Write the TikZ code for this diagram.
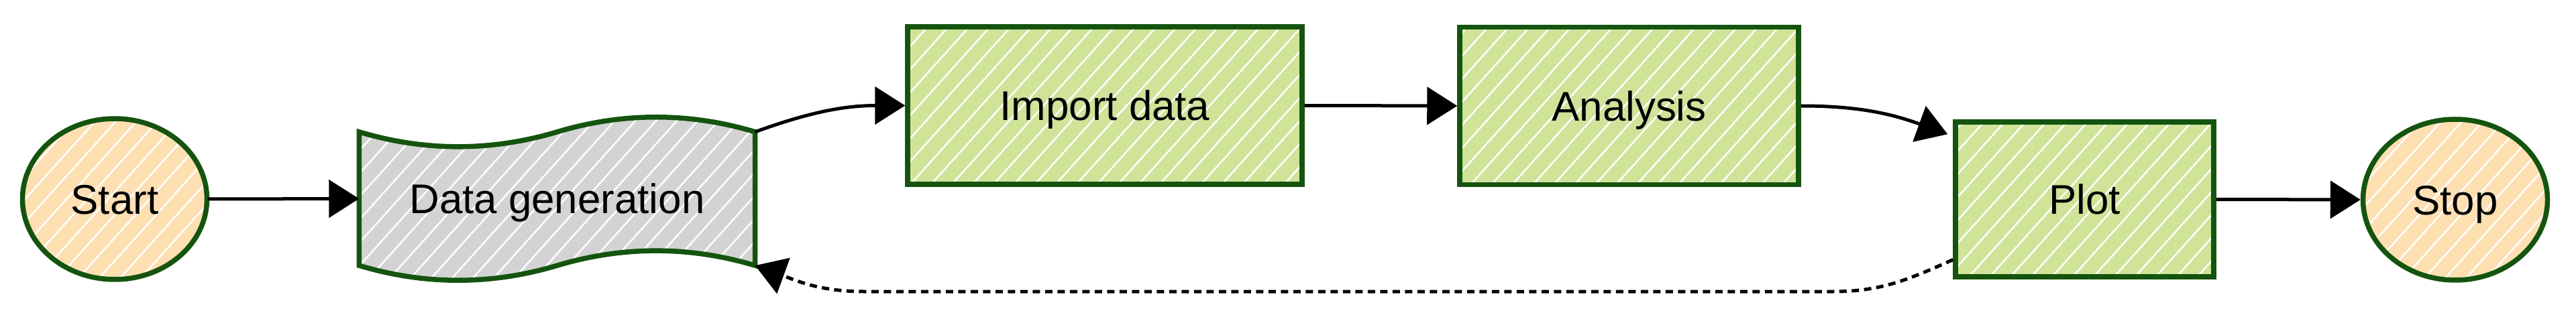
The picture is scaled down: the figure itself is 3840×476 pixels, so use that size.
\documentclass[tikz,border=0pt]{standalone}
\usepackage{fontspec}
\setmainfont{Liberation Sans}
\usetikzlibrary{shapes.geometric,arrows.meta,patterns.meta,backgrounds}
\definecolor{edgegreen}{RGB}{20,84,15}
\definecolor{leafgreen}{RGB}{207,227,153}
\definecolor{peach}{RGB}{253,223,178}
\definecolor{paleg}{RGB}{211,211,211}
\begin{document}
\begin{tikzpicture}[x=0.1mm, y=-0.1mm,
    font=\fontsize{17.6}{21}\selectfont,
    every node/.style={text height=12.6pt, text depth=0pt},
    sketchy/.style={draw=edgegreen, line width=0.75mm, preaction={fill=#1},
      pattern={Lines[angle=48,distance=2.3mm,line width=0.25mm]}, pattern color=white},
    terminal/.style={ellipse, sketchy=peach, minimum width=27.5mm, minimum height=24mm, inner sep=0pt},
    stepbox/.style={rectangle, sketchy=leafgreen, inner sep=0pt},
    flow/.style={-{Triangle[length=4.5mm,width=5.6mm]}, line width=0.5mm},
    loopback/.style={flow, dash pattern=on 1.1mm off 0.75mm}]

  \useasboundingbox (0,0) rectangle (3840,476);

  \node[terminal] (start) at (171,297) {Start};
  \node[minimum width=58.9mm, minimum height=24.7mm, inner sep=0pt] (dgen) at (830.5,296.5) {Data generation};
  \node[stepbox, minimum width=58.8mm, minimum height=23.5mm] (import) at (1647,157.5) {Import data};
  \node[stepbox, minimum width=50.5mm, minimum height=23.5mm] (analysis) at (2428.5,158) {Analysis};
  \node[stepbox, minimum width=38.5mm, minimum height=23.1mm] (plot) at (3107.5,297.5) {Plot};
  \node[terminal] (stop) at (3660,298) {Stop};

  % wavy tape behind the data generation text
  \begin{scope}[on background layer]
    \draw[sketchy=paleg]
      ([yshift=-2.45mm]dgen.north west)
        .. controls +(9.82mm,-2.94mm) and +(-9.82mm,-2.94mm) .. ([yshift=-2.45mm]dgen.north)
        .. controls +(9.82mm,2.94mm) and +(-9.82mm,2.94mm) .. ([yshift=-2.45mm]dgen.north east)
      -- ([yshift=2.45mm]dgen.south east)
        .. controls +(-9.82mm,2.94mm) and +(9.82mm,2.94mm) .. ([yshift=2.45mm]dgen.south)
        .. controls +(-9.82mm,-2.94mm) and +(9.82mm,-2.94mm) .. ([yshift=2.45mm]dgen.south west)
      -- cycle;
  \end{scope}

  \coordinate (loopR) at (2733,435);
  \coordinate (loopL) at (1287,435);

  \draw[flow] (start.east) -- (dgen.west);
  \draw[flow] ([yshift=-2.45mm]dgen.north east) to[out=20,in=180] (import.west);
  \draw[flow] (import.east) -- (analysis.west);
  \draw[flow] (analysis.east) to[out=0,in=160] ([xshift=-0.8mm,yshift=-2.2mm]plot.north west);
  \draw[flow] (plot.east) -- (stop.west);
  \draw[loopback] ([yshift=-9mm]plot.west) to[out=204,in=0] (loopR) -- (loopL)
    to[out=180,in=-20] ([yshift=2.45mm]dgen.south east);
\end{tikzpicture}
\end{document}
